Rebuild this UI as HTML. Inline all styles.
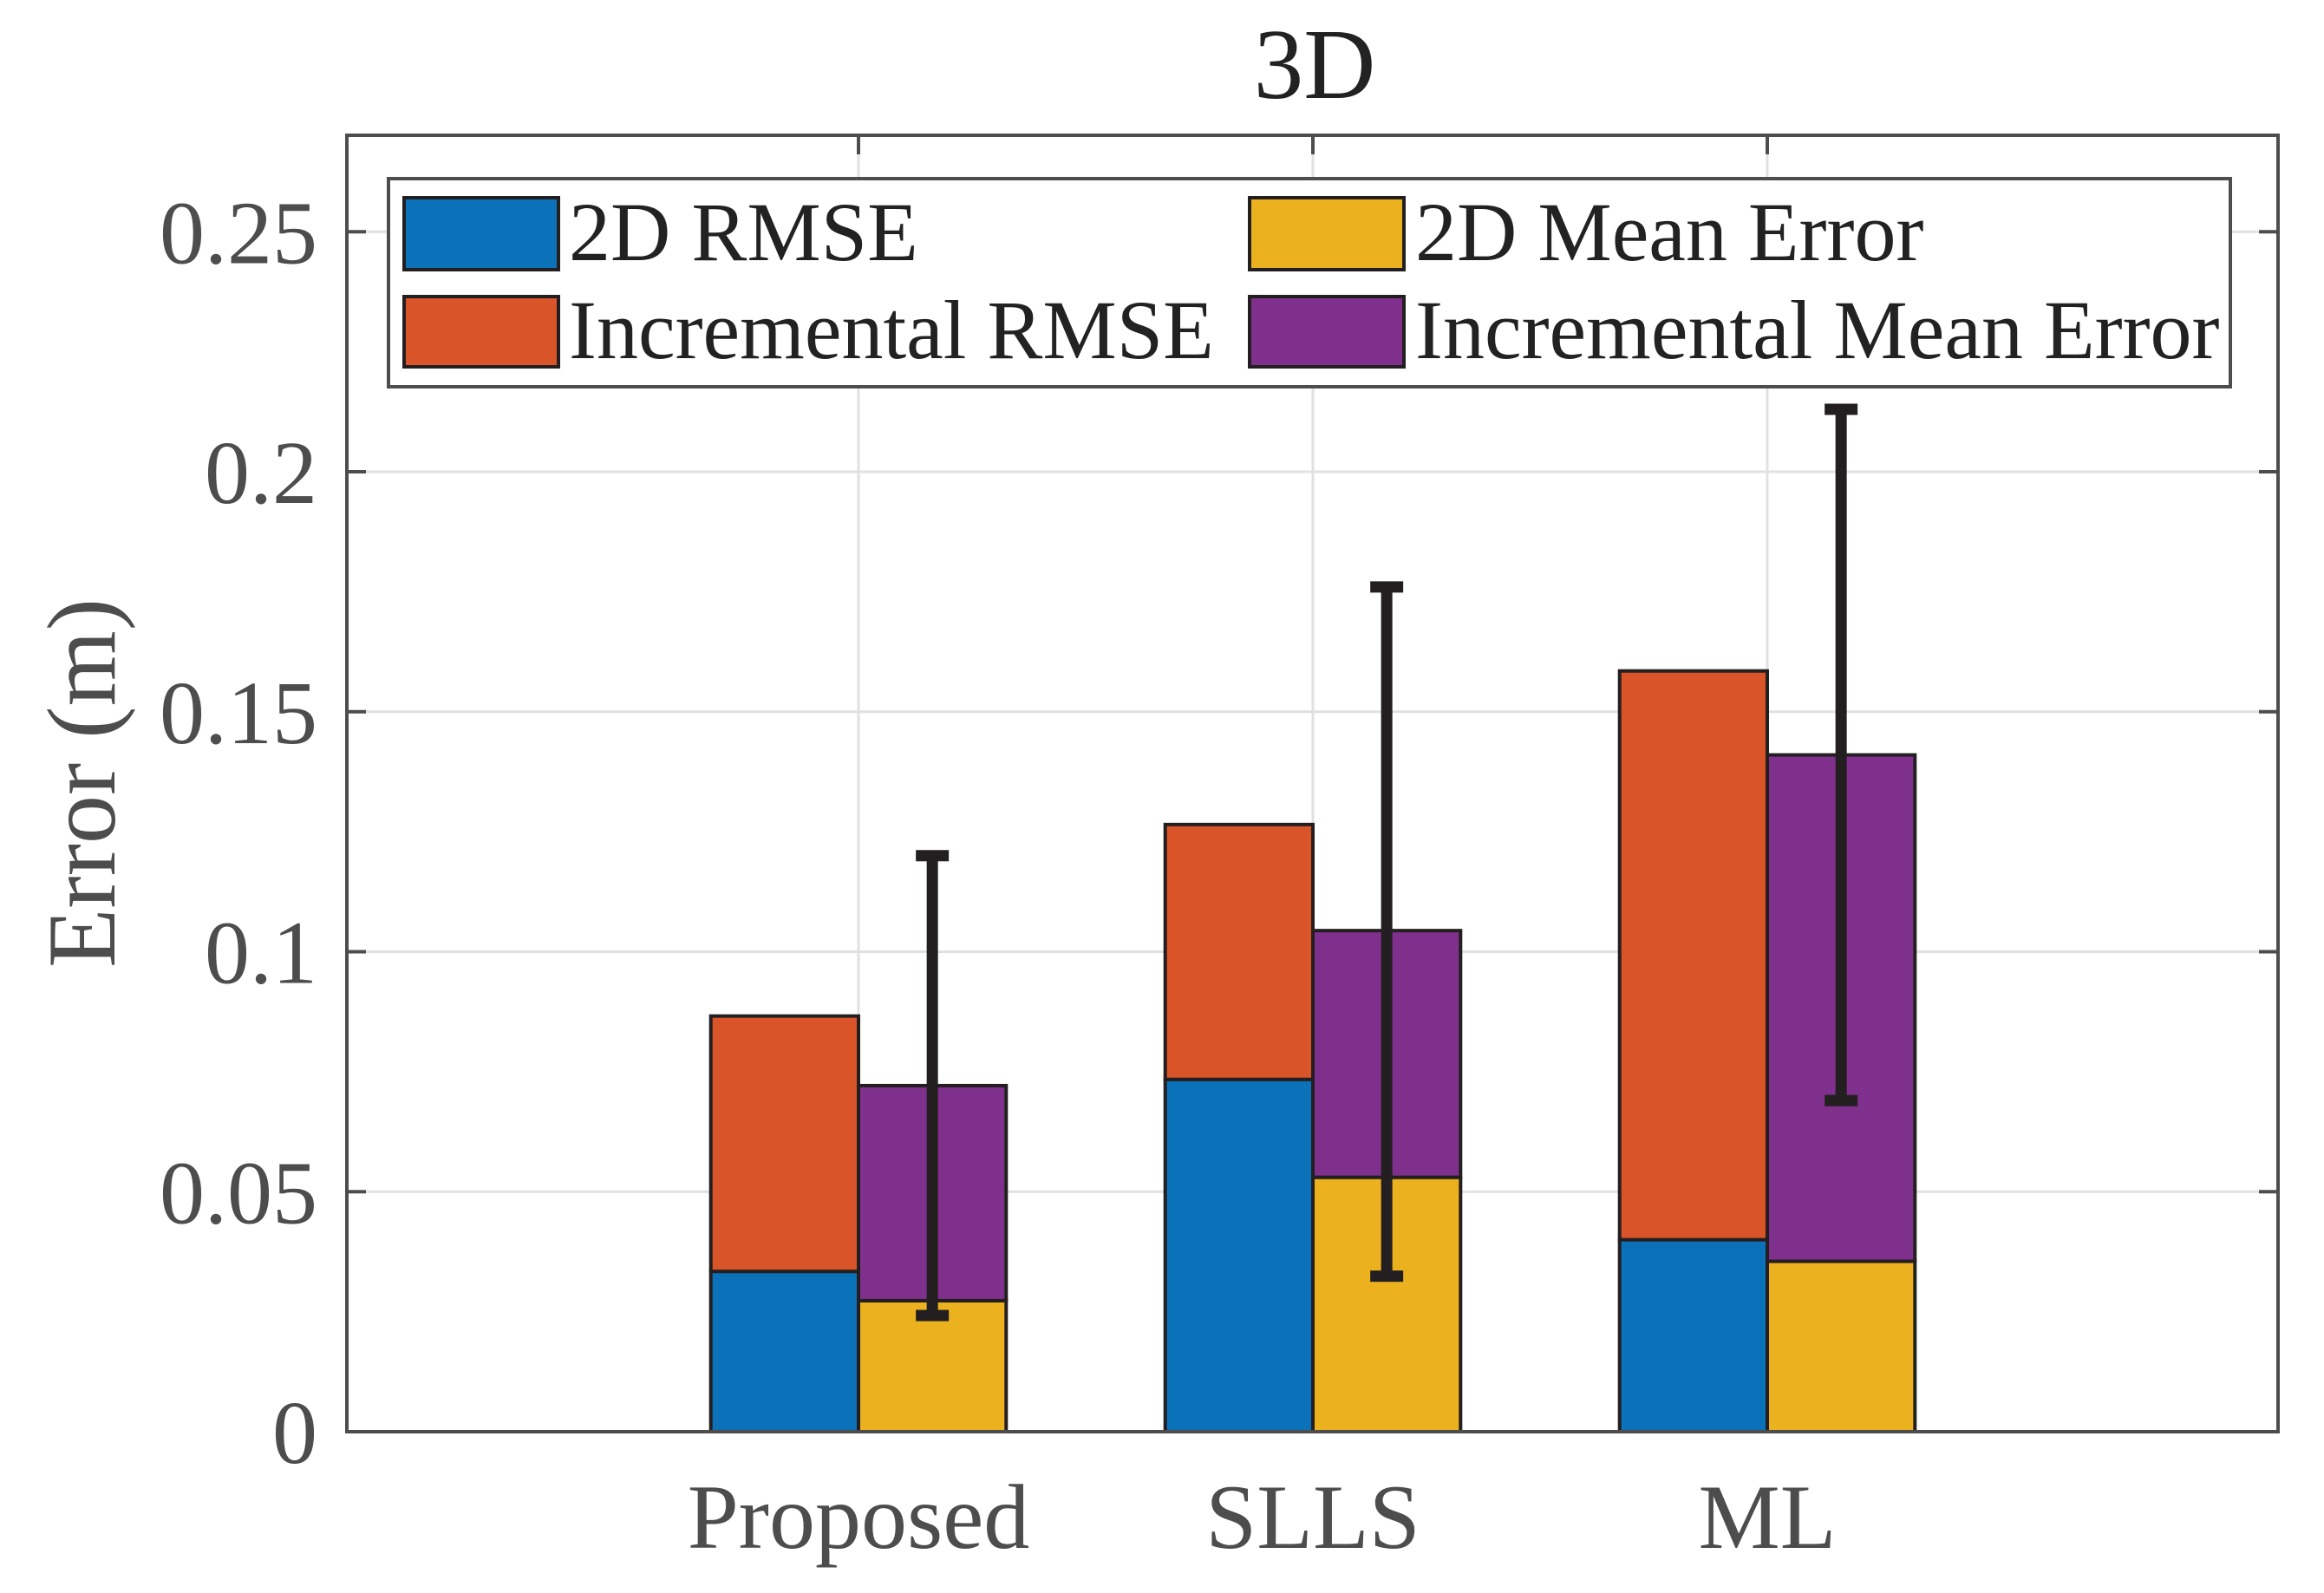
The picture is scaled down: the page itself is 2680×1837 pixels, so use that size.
<!DOCTYPE html>
<html><head><meta charset="utf-8"><style>
html,body{margin:0;padding:0;background:#fff;}
svg{display:block;}
text{font-family:"Liberation Serif",serif;}
</style></head><body>
<svg id="chart" width="2680" height="1837" viewBox="0 0 2680 1837" xmlns="http://www.w3.org/2000/svg">
<g id="grid"></g>
<g id="bars"></g>
<g id="errs"></g>
<g id="axes"></g>
<text x="1516" y="113" font-size="115" text-anchor="middle" fill="#222">3D</text>
<text transform="translate(132,903) rotate(-90)" font-size="112" text-anchor="middle" fill="#4d4d4d">Error (m)</text>
<g>
<rect x="448" y="206" width="2124" height="240" fill="#fff" stroke="#4d4d4d" stroke-width="4"/>
<rect x="466" y="228" width="178" height="83" fill="#0b72b9" stroke="#231f20" stroke-width="4"/>
<text x="656" y="300" font-size="96" fill="#222">2D RMSE</text>
<rect x="466" y="342" width="178" height="81" fill="#d95428" stroke="#231f20" stroke-width="4"/>
<text x="656" y="413" font-size="96" fill="#222">Incremental RMSE</text>
<rect x="1441" y="228" width="178" height="83" fill="#ecb11f" stroke="#231f20" stroke-width="4"/>
<text x="1632" y="300" font-size="96" fill="#222">2D Mean Error</text>
<rect x="1441" y="342" width="178" height="81" fill="#7f308c" stroke="#231f20" stroke-width="4"/>
<text x="1632" y="413" font-size="96" fill="#222">Incremental Mean Error</text>
</g>
</svg>
<script>
const categories = ["Proposed", "SLLS", "ML"];
const rmse2d = [0.0334, 0.0734, 0.0400];
const rmseIncTotal = [0.0866, 0.1265, 0.1585];
const mean2d = [0.0273, 0.0530, 0.0355];
const meanIncTotal = [0.0721, 0.1044, 0.1410];
const errLow = [0.0242, 0.0324, 0.0690];
const errHigh = [0.1200, 0.1760, 0.2130];
const yTicks = [0, 0.05, 0.1, 0.15, 0.2, 0.25];
const yTickLabels = ["0", "0.05", "0.1", "0.15", "0.2", "0.25"];

const NS = "http://www.w3.org/2000/svg";
const L = 400, R = 2627, T = 156, B = 1651;
const unitPx = 524, x1px = 990;
const xmin = 1 - (x1px - L) / unitPx, xmax = 1 + (R - x1px) / unitPx, ymin = 0, ymax = 0.2701;
function sx(v){ return L + (v - xmin) / (xmax - xmin) * (R - L); }
function sy(v){ return B - (v - ymin) / (ymax - ymin) * (B - T); }
const barW = 0.325;
function mk(tag, attrs, parent){
  const e = document.createElementNS(NS, tag);
  for (const k in attrs) e.setAttribute(k, attrs[k]);
  parent.appendChild(e);
  return e;
}
const grid = document.getElementById('grid');
const bars = document.getElementById('bars');
const errs = document.getElementById('errs');
const axes = document.getElementById('axes');

mk('rect', {x:L, y:T, width:R-L, height:B-T, fill:'#fff'}, grid);
yTicks.forEach((t, i) => {
  const y = sy(t);
  if (t > 0) {
    const g = mk('line', {x1:L, x2:R, y1:y, y2:y, stroke:'#e1e1e1', 'stroke-width':3}, grid);
    
    
  }
  const tl = mk('line', {x1:L, x2:L+22, y1:y, y2:y, stroke:'#4d4d4d', 'stroke-width':4}, axes);
  
  
  const tr = mk('line', {x1:R-22, x2:R, y1:y, y2:y, stroke:'#4d4d4d', 'stroke-width':4}, axes);
  
  
  const lab = mk('text', {x:366, y:y+36, 'font-size':104, 'text-anchor':'end', fill:'#4d4d4d'}, axes);
  lab.textContent = yTickLabels[i];
  
  
});
categories.forEach((c, i) => {
  const x = sx(i + 1);
  const g = mk('line', {x1:x, x2:x, y1:T, y2:B, stroke:'#e1e1e1', 'stroke-width':3}, grid);
  
  
  const tt = mk('line', {x1:x, x2:x, y1:T, y2:T+22, stroke:'#4d4d4d', 'stroke-width':4}, axes);
  
  
  const lab = mk('text', {x:x, y:1785, 'font-size':106, 'text-anchor':'middle', fill:'#4d4d4d'}, axes);
  lab.textContent = c;
  
  

  const segs = [
    {x0:i+1-barW, v0:0, v1:rmse2d[i], fill:'#0b72b9', name:'bar-2d-rmse'},
    {x0:i+1-barW, v0:rmse2d[i], v1:rmseIncTotal[i], fill:'#d95428', name:'bar-incremental-rmse'},
    {x0:i+1, v0:0, v1:mean2d[i], fill:'#ecb11f', name:'bar-2d-mean-error'},
    {x0:i+1, v0:mean2d[i], v1:meanIncTotal[i], fill:'#7f308c', name:'bar-incremental-mean-error'}
  ];
  segs.forEach(s => {
    const r = mk('rect', {x:sx(s.x0), y:sy(s.v1), width:sx(s.x0+barW)-sx(s.x0), height:sy(s.v0)-sy(s.v1), fill:s.fill, stroke:'#231f20', 'stroke-width':4}, bars);
    
    
  });
  const ex = sx(i + 1 + barW/2);
  const el = mk('line', {x1:ex, x2:ex, y1:sy(errHigh[i]), y2:sy(errLow[i]), stroke:'#231f20', 'stroke-width':13}, errs);
  
  
  [errHigh[i], errLow[i]].forEach(v => {
    const cap = mk('line', {x1:ex-19, x2:ex+19, y1:sy(v), y2:sy(v), stroke:'#231f20', 'stroke-width':13}, errs);
    
    
  });
});
const frame = mk('rect', {x:L, y:T, width:R-L, height:B-T, fill:'none', stroke:'#4d4d4d', 'stroke-width':4}, axes);


</script>
</body></html>
